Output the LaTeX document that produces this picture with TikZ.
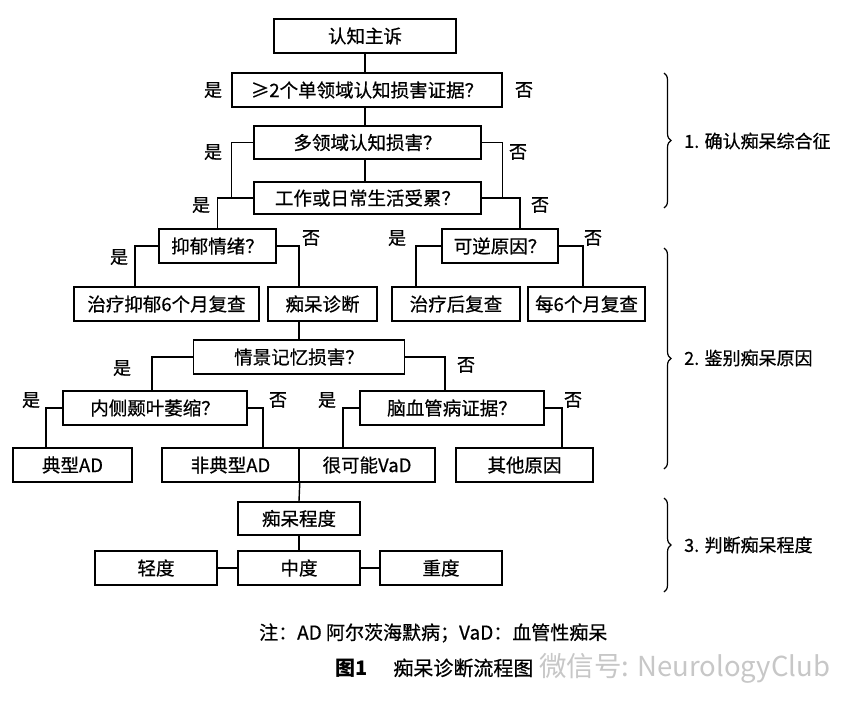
\documentclass[tikz,border=0pt]{standalone}
\usepackage{fontspec}
\setmainfont{Noto Sans CJK SC}
\newfontfamily\heavy[FakeBold=0.6]{Noto Sans CJK SC}
\usetikzlibrary{decorations.pathreplacing}
\begin{document}
\begin{tikzpicture}[x=1pt,y=-1pt,
  box/.style={draw, line width=1.5pt, inner sep=0pt, font=\heavy\fontsize{18.5}{20}\selectfont},
  conn/.style={line width=1.4pt},
  lab/.style={font=\heavy\fontsize{18}{20}\selectfont, inner sep=0pt},
  brc/.style={decorate, decoration={brace, amplitude=7pt}, line width=1.2pt},
  sec/.style={anchor=west, font=\heavy\fontsize{18}{20}\selectfont, inner sep=0pt},
]
\fill[white] (0,0) rectangle (852,710);
\useasboundingbox (0,0) rectangle (852,710);

% boxes
\node[box, minimum width=182pt, minimum height=34pt] (b0) at (365,36) {认知主诉};
\node[box, minimum width=270pt, minimum height=34pt] (b1) at (367,90) {≥2个单领域认知损害证据？};
\node[box, minimum width=227pt, minimum height=33pt] (b2) at (367.5,142.5) {多领域认知损害？};
\node[box, minimum width=227pt, minimum height=32pt] (b3) at (367.5,198) {工作或日常生活受累？};
\node[box, minimum width=117pt, minimum height=34pt] (b4) at (217.5,246) {抑郁情绪？};
\node[box, minimum width=116pt, minimum height=34pt] (b5) at (500,246) {可逆原因？};
\node[box, minimum width=185pt, minimum height=34pt] (b6) at (166.5,304) {治疗抑郁6个月复查};
\node[box, minimum width=109pt, minimum height=34pt] (b7) at (322.5,304) {痴呆诊断};
\node[box, minimum width=128pt, minimum height=34pt] (b8) at (456,304) {治疗后复查};
\node[box, minimum width=117pt, minimum height=34pt] (b9) at (586.5,304) {每6个月复查};
\node[box, minimum width=211pt, minimum height=34pt] (b10) at (299,357) {情景记忆损害？};
\node[box, minimum width=184pt, minimum height=34pt] (b11) at (155,408) {内侧颞叶萎缩？};
\node[box, minimum width=184pt, minimum height=34pt] (b12) at (452,408) {脑血管病证据？};
\node[box, minimum width=119pt, minimum height=34pt] (b13) at (72.5,465) {典型AD};
\node[box, minimum width=137pt, minimum height=34pt] (b14) at (230.5,465) {非典型AD};
\node[box, minimum width=136pt, minimum height=34pt] (b15) at (367,465) {很可能VaD};
\node[box, minimum width=137pt, minimum height=34pt] (b16) at (524.5,465) {其他原因};
\node[box, minimum width=122pt, minimum height=33pt] (b17) at (299,518.5) {痴呆程度};
\node[box, minimum width=122pt, minimum height=34pt] (b18) at (156,568) {轻度};
\node[box, minimum width=122pt, minimum height=34pt] (b19) at (299,568) {中度};
\node[box, minimum width=122pt, minimum height=34pt] (b20) at (441,568) {重度};

% connectors
\draw[conn] (b0.south) -- (b0.south |- b1.north);
\draw[conn] (b1.south -| b0.south) -- (b2.north -| b0.south);
\draw[conn] (b2.south -| b0.south) -- (b3.north -| b0.south);
\draw[conn] (b2.west) -- ++(-22,0) |- (b3.west);
\draw[conn] (b2.east) -- ++(21,0) |- (b3.east);
\draw[conn] (b3.west) -| (b4.north);
\draw[conn] (b3.east) -| ([xshift=20pt]b5.north);
\draw[conn] (b4.west) -| ([xshift=-31.5pt]b6.north);
\draw[conn] (b4.east) -| ([xshift=-23.5pt]b7.north);
\draw[conn] ([xshift=-23.5pt]b7.south) -- (b10.north);
\draw[conn] (b5.west) -| ([xshift=-40pt]b8.north);
\draw[conn] (b5.east) -| ([xshift=-3.5pt]b9.north);
\draw[conn] (b10.west) -| ([xshift=-3pt]b11.north);
\draw[conn] (b10.east) -| ([xshift=-7pt]b12.north);
\draw[conn] (b11.west) -| ([xshift=-26.5pt]b13.north);
\draw[conn] (b11.east) -| ([xshift=32.5pt]b14.north);
\draw[conn] (b12.west) -| ([xshift=-24pt]b15.north);
\draw[conn] (b12.east) -| ([xshift=37.5pt]b16.north);
\draw[conn] (b14.south east) -- (b17.north);
\draw[conn] (b17.south) -- (b19.north);
\draw[conn] (b18.east) -- (b19.west);
\draw[conn] (b19.east) -- (b20.west);

% yes/no labels
\node[lab] (y1) at (213,90) {是};
\node[lab] (n1) at (524,90) {否};
\node[lab] (y2) at (213,152) {是};
\node[lab] (n2) at (518,152) {否};
\node[lab] (y3) at (201,205) {是};
\node[lab] (n3) at (540,205) {否};
\node[lab] (y4) at (119,257) {是};
\node[lab] (n4) at (311,238) {否};
\node[lab] (y5) at (397,238) {是};
\node[lab] (n5) at (593,238) {否};
\node[lab] (y10) at (122,368) {是};
\node[lab] (n10) at (466,365) {否};
\node[lab] (y11) at (31,400) {是};
\node[lab] (n11) at (278,400) {否};
\node[lab] (y12) at (327,400) {是};
\node[lab] (n12) at (573,400) {否};

% braces and section labels
\draw[brc] (664,73) -- (664,208);
\draw[brc] (664,248) -- (664,469);
\draw[brc] (664,498) -- (664,592);
\node[sec] (s1) at (684,141) {1. 确认痴呆综合征};
\node[sec] (s2) at (684,358) {2. 鉴别痴呆原因};
\node[sec] (s3) at (684,545) {3. 判断痴呆程度};

% captions
\node[anchor=west, inner sep=0pt, font=\heavy\fontsize{19}{22}\selectfont] (note) at (259,633) {注：AD 阿尔茨海默病；VaD：血管性痴呆};
\node[anchor=west, inner sep=0pt, font=\fontsize{20}{22}\selectfont] (cap) at (335,668) {\textbf{图1}\hspace{1.3em}{\heavy 痴呆诊断流程图}};
\node[anchor=west, inner sep=0pt, text=black!22, font=\fontsize{27.5}{30}\selectfont] (wm) at (539,668) {微信号: NeurologyClub};
\end{tikzpicture}
\end{document}
